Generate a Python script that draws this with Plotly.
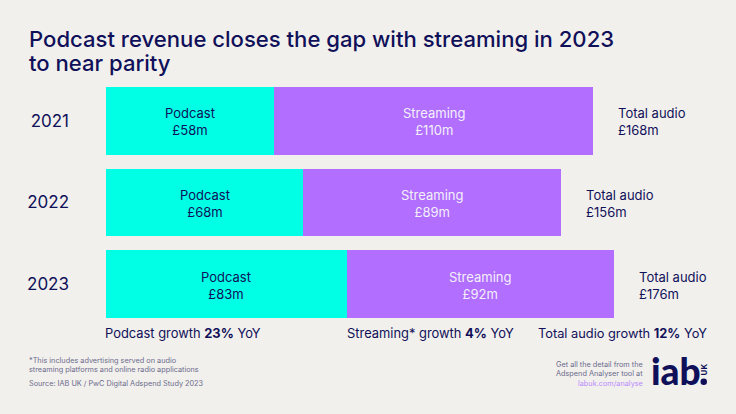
import plotly.graph_objects as go

years = ["2021", "2022", "2023"]
podcast = [58, 68, 83]
streaming = [110, 89, 92]
total_labels = ["£168m", "£156m", "£176m"]
title_lines = ["Podcast revenue closes the gap with streaming in 2023", "to near parity"]
note_lines = ["*This includes advertising served on audio", "streaming platforms and online radio applications"]
source_line = "Source: IAB UK / PwC Digital Adspend Study 2023"
cta_lines = ["Get all the detail from the", "Adspend Analyser tool at"]
cta_link = "labuk.com/analyse"

NAVY = "#10105a"
GREY = "#6b6b8c"
FONT = "Inter"
BG = "#f2f0ec"
L, T, W, H = 106, 79.6, 630, 245
SCALE = 2.9

fig = go.Figure()
fig.add_bar(y=years, x=podcast, orientation="h", marker=dict(color="#00ffe5", line_width=0))
fig.add_bar(y=years, x=streaming, orientation="h", marker=dict(color="#b16eff", line_width=0))

ann = []
for i, (p, s, lab) in enumerate(zip(podcast, streaming, total_labels)):
    ann.append(dict(x=p / 2, y=i, xref="x", yref="y", yshift=-1, showarrow=False,
                    text=f"Podcast<br>£{p}m", font=dict(size=13, color=NAVY, family=FONT)))
    ann.append(dict(x=p + s / 2, y=i, xref="x", yref="y", yshift=-1, showarrow=False,
                    text=f"Streaming<br>£{s}m", font=dict(size=13, color="#f4f0fa", family=FONT)))
    ann.append(dict(x=p + s, y=i, xref="x", yref="y", xshift=23, yshift=-1, xanchor="left", align="left",
                    showarrow=False, text=f"Total audio<br>{lab}", font=dict(size=13, color=NAVY, family=FONT)))

def paper(x, y, text, size, color=NAVY, anchor="left", align="left", **kw):
    ann.append(dict(x=(x - L) / W, y=1 - (y - T) / H, xref="paper", yref="paper", xanchor=anchor, yanchor="middle",
                    align=align, showarrow=False, text=text,
                    font=dict(size=size, color=color, family=kw.pop("family", FONT), weight=kw.pop("weight", 400)),
                    **kw))

paper(27, 39, title_lines[0], 22.1, weight=500)
paper(27, 63, title_lines[1], 22.1, weight=500)
paper(103, 333, "Podcast growth <b>23%</b> YoY", 12.9)
paper(345, 333, "Streaming* growth <b>4%</b> YoY", 12.9)
paper(709, 333, "Total audio growth <b>12%</b> YoY", 12.8, anchor="right", align="right")
paper(27, 360, note_lines[0], 7.3, color=GREY)
paper(27, 369.5, note_lines[1], 7.3, color=GREY)
paper(27, 383, source_line, 7.3, color=GREY)
paper(645, 364, cta_lines[0], 7.3, color=GREY, anchor="right", align="right")
paper(645, 373.5, cta_lines[1], 7.3, color=GREY, anchor="right", align="right")
paper(645, 383, cta_link, 7.3, color="#b98aff", anchor="right", align="right")
paper(649, 370, "iab", 37, weight=900, family="Lato")
paper(704, 369, "UK", 8, anchor="center", align="center", textangle=-90, weight=700)

def px(x): return (x - L) / W
def py(y): return 1 - (y - T) / H

fig.update_layout(
    barmode="stack", bargap=0.174, width=736, height=414, autosize=False,
    margin=dict(l=L, r=736 - L - W, t=T, b=414 - T - H, pad=0),
    paper_bgcolor=BG, plot_bgcolor=BG, showlegend=False,
    font=dict(family=FONT, color=NAVY),
    xaxis=dict(range=[0, W / SCALE], visible=False),
    yaxis=dict(type="category", categoryorder="array", categoryarray=years, range=[2.5, -0.5], showgrid=False,
               zeroline=False, showline=False, ticks="", ticklabelstandoff=36,
               tickfont=dict(size=17, color=NAVY, family=FONT)),
    annotations=ann,
    shapes=[dict(type="circle", xref="paper", yref="paper", x0=px(700.5), x1=px(707), y0=py(384.5), y1=py(378),
                 fillcolor=NAVY, line_width=0)],
)
fig.write_html("out.html", config=dict(displayModeBar=False),
               post_script="document.body.style.margin='0';document.body.style.background='#f2f0ec';")
